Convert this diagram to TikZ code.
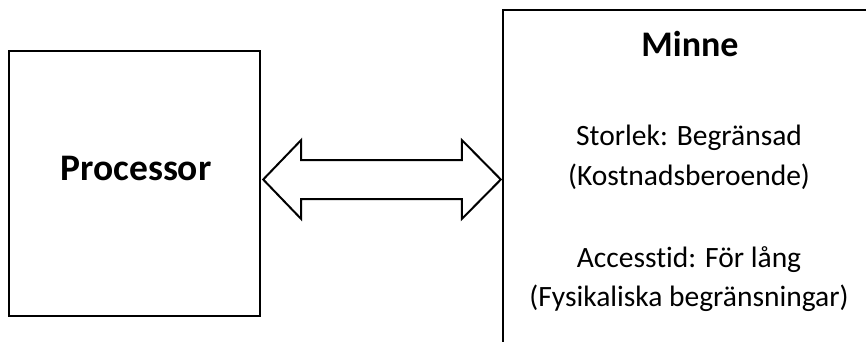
\documentclass[tikz,border=0pt]{standalone}
\usepackage{fontspec}
\setmainfont[Ligatures=NoCommon]{Carlito}
\usetikzlibrary{calc}
\begin{document}
\begin{tikzpicture}[x=1pt,y=-1pt,
  box/.style={draw=black,line width=2.4pt,fill=white,rectangle,inner sep=0pt},
  bigarrow/.style={draw=black,line width=2pt,fill=white,line join=miter},
  title/.style={font=\fontsize{#1}{40}\selectfont\bfseries,inner sep=0pt,anchor=base},
  body/.style={font=\fontsize{29.5}{36}\selectfont,inner sep=0pt,anchor=base}]
\useasboundingbox (0,0) rectangle (866,342);
\clip (0,0) rectangle (866,342);
% processor block
\node[box,minimum width=251pt,minimum height=265pt] (proc) at (134.5,183.5) {};
\node[title=37.5] (proclabel) at (136,180) {Processor};
% memory block, running past the right and bottom edges
\node[box,minimum width=376pt,minimum height=360pt] (mem) at (691,190) {};
\node[title=36] (memlabel) at (690,57) {Minne};
\node[body] (size1) at (689,145) {Storlek: Begränsad};
\node[body] (size2) at (689,185.5) {(Kostnadsberoende)};
\node[body] (access1) at (689,267) {Accesstid: För lång};
\node[body] (access2) at (689,306) {(Fysikaliska begränsningar)};
% two-headed block arrow between the blocks
\coordinate (la) at ($(proc.east)+(2,-4)$);
\coordinate (ra) at ($(mem.west |- la)+(-1,0)$);
\draw[bigarrow] (la) -- ($(la)+(38,-39.5)$) -- ($(la)+(38,-19.5)$)
  -- ($(ra)+(-39,-19.5)$) -- ($(ra)+(-39,-39.5)$) -- (ra)
  -- ($(ra)+(-39,39.5)$) -- ($(ra)+(-39,19.5)$)
  -- ($(la)+(38,19.5)$) -- ($(la)+(38,39.5)$) -- cycle;
\end{tikzpicture}
\end{document}
